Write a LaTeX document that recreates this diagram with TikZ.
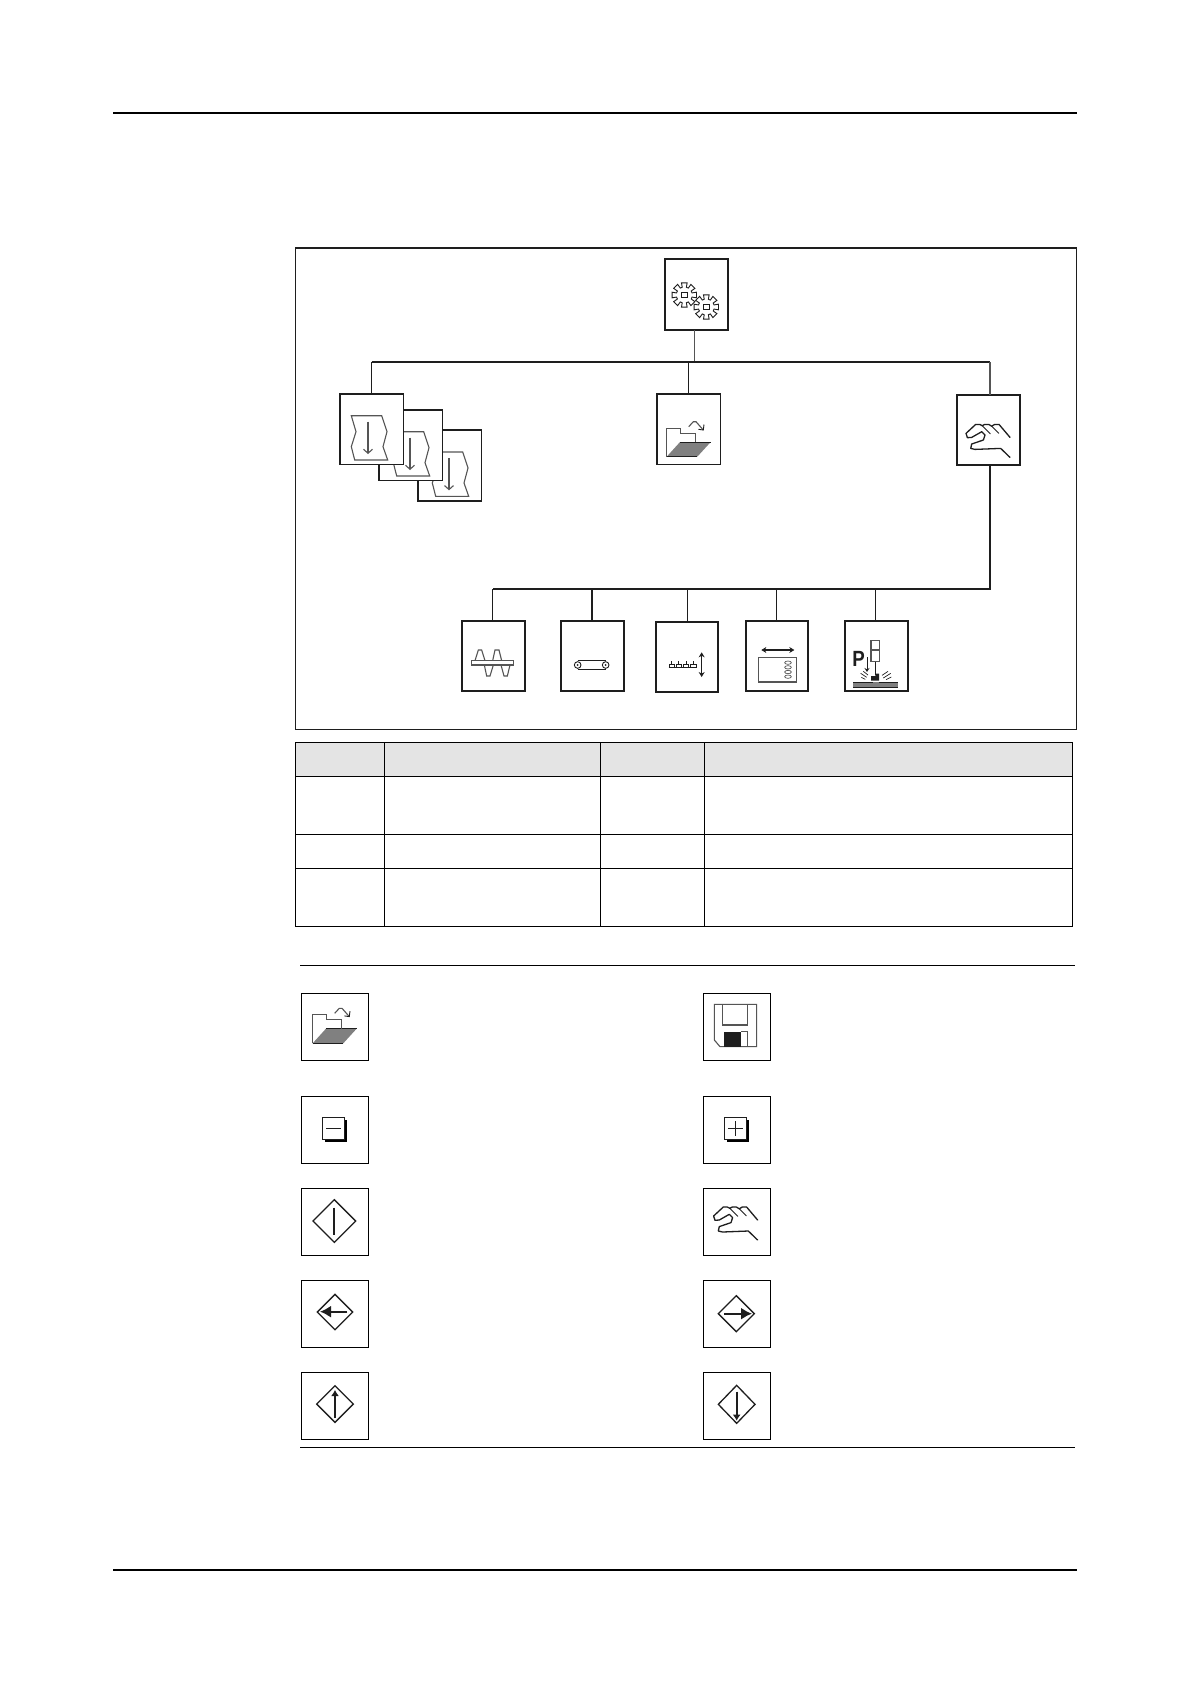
\documentclass[tikz,border=0pt]{standalone}
\usepackage{fontspec}
\setmainfont{Liberation Sans}
\usetikzlibrary{arrows.meta}
\definecolor{ink}{HTML}{1E1E1E}
\definecolor{soft}{HTML}{555555}
\definecolor{headfill}{HTML}{E4E4E4}
\definecolor{dotfill}{HTML}{808080}
\tikzset{
  x=1pt,y=-1pt,
  mainbox/.style={draw=ink,line width=1.7pt,fill=white,inner sep=0pt,outer sep=0pt,anchor=north west,minimum width=63.4pt,minimum height=70.6pt},
  legbox/.style={draw=black,line width=1pt,fill=white,inner sep=0pt,outer sep=0pt,anchor=north west,minimum width=67.4pt,minimum height=67pt},
  bus/.style={draw=ink,line width=1.7pt},
  drop/.style={draw=ink,line width=1.1pt},
  rulethick/.style={draw=black,line width=2pt},
  rulethin/.style={draw=black,line width=1.1pt},
  grid/.style={draw=black,line width=1.1pt},
  ic/.style={draw=ink,line width=.9pt,line join=miter},
  icg/.style={draw=soft,line width=1.1pt,line join=miter},
  icb/.style={draw=ink,line width=1.3pt,line cap=round,line join=round},
  pics/gearwheel/.style={code={
    \draw[ic,fill=white] (-13:12.5)
      foreach \a in {0,45,...,315}{ -- (\a-13:12.5) -- (\a+13:12.5) -- (\a+15:8) -- (\a+30:8) } -- cycle;
    \draw[ic] (-2.7,-2.7) rectangle (2.7,2.7);
  }},
  pics/docsheet/.style={code={
    \draw[icg,fill=white] (11.3,21.7) -- (41.7,21.7) -- (47,37.7) -- (43,52.7) -- (47.7,66) -- (14.7,66) -- (11.3,52.7) -- (16,37.7) -- cycle;
    \draw[icg,-{Straight Barb[length=4pt,width=9pt]}] (28,27.7) -- (28,60);
  }},
  pics/foldericon/.style={code={
    \fill[dotfill] (23,48) -- (53.7,48) -- (40.3,62.7) -- (9.7,62.7) -- cycle;
    \draw[ic,line width=.7pt] (23,48) -- (53.7,48);
    \draw[ic,line width=1.2pt] (9.7,62.7) -- (40.3,62.7);
    \draw[icg] (9.7,62.7) -- (9.7,34.3) -- (23.7,34.3) -- (23.7,39.3) -- (38.3,39.3) -- (38.3,48);
    \draw[icg] (31.7,32.7) -- (36.3,27.7) -- (39,27.7) -- (46.3,36);
    \draw[ic] (41.5,35.3) -- (46.3,36) -- (47,30.5);
  }},
  pics/handicon/.style={code={
    \draw[icb] (53.3,42.7) -- (42.3,29.7) -- (38,29.7) -- (35,31.5) -- (32,29.7) -- (28,29.7) -- (25.5,31) -- (23,29.7) -- (19,29.7) -- (9.3,38.7) -- (10.7,43) -- (15,42.7) -- (25,37) -- (28.3,40.3) -- (26.7,45.3) -- (15,49.3) -- (14,53.7) -- (18.3,54.7) -- (44,53.7) -- (53.3,62.7);
    \draw[icb,line width=.9pt] (35,31.5) -- (42,38.5);
    \draw[icb,line width=.9pt] (25.5,31) -- (33.5,39);
  }},
  pics/keyminus/.style={code={
    \fill[black] (105,420) rectangle (171,486);
    \draw[ic,fill=white,line width=1pt] (97,411) rectangle (163,478);
    \draw[ink,line width=1.3pt] (109,445) -- (152,445);
  }},
  pics/keyplus/.style={code={
    \fill[black] (110,420) rectangle (177,486);
    \draw[ic,fill=white,line width=1pt] (103,411) rectangle (170,478);
    \draw[ink,line width=1.2pt] (115,445) -- (158,445) (136,423) -- (136,467);
  }},
  pics/floppy/.style={code={
    \draw[icg] (73,73) -- (200,73) -- (200,200) -- (90,200) -- (73,180) -- cycle;
    \draw[icg] (97,73) -- (97,135) -- (173,135) -- (173,73);
    \fill[ink] (102,155) rectangle (153,200);
    \draw[icg] (153,155) -- (172,155) -- (172,200);
  }},
}
\begin{document}
\begin{tikzpicture}
\useasboundingbox (0,0) rectangle (1191,1684);
\fill[white] (0,0) rectangle (1191,1684);
% page rules
\coordinate (topL) at (113.3,113); \coordinate (topR) at (1077,113);
\coordinate (botL) at (113.3,1569.6); \coordinate (botR) at (1077,1569.6);
\draw[rulethick] (topL) -- (topR);
\draw[rulethick] (botL) -- (botR);
% frame
\node[draw=ink,line width=1.1pt,inner sep=0pt,outer sep=0pt,anchor=north west,minimum width=781.2pt,minimum height=481.3pt] (frame) at (295.5,248) {};
% tree coordinates
\coordinate (busL) at (371.7,362);
\coordinate (busR) at (990,362);
\coordinate (gearjoin) at (694.7,362);
\coordinate (lowL) at (492.7,589);
\coordinate (lowR) at (990,589);
\coordinate (lowB) at (592,589);
\coordinate (lowC) at (687.3,589);
\coordinate (lowD) at (776.3,589);
\coordinate (lowE) at (875.3,589);
% top node
\node[mainbox,minimum height=71pt] (gear) at (664.7,259) {};
\pic at (684.3,295) {gearwheel};
\pic at (706.3,307) {gearwheel};
% doc stack
\node[mainbox] (docC) at (418,430.3) {};
\pic at (421,430.3) {docsheet};
\node[mainbox] (docB) at (379,410) {};
\pic at (382,410) {docsheet};
\node[mainbox] (docA) at (340,394) {};
\pic at (340,394) {docsheet};
% folder
\node[mainbox] (folder) at (657,394) {};
\pic at (657,394) {foldericon};
% hand
\node[mainbox] (hand) at (956.7,394.7) {};
\pic at (956.7,394.7) {handicon};
% lower row
\node[mainbox] (screw) at (461.7,620.7) {};
\node[mainbox] (belt) at (560.7,620.7) {};
\node[mainbox,minimum width=62.6pt] (suction) at (655.7,621.7) {};
\node[mainbox,minimum width=62.6pt] (slide) at (745.7,620.7) {};
\node[mainbox] (press) at (844.7,620.7) {};
% connectors
\draw[draw=soft,line width=1.4pt] (gear.south -| gearjoin) -- (gearjoin);
\draw[bus] (busL) -- (busR);
\draw[drop] (busL) -- (busL |- docA.north);
\draw[drop] (folder.north |- busL) -- (folder.north);
\draw[drop,line width=1.3pt,draw=soft] (busR) -- (busR |- hand.north);
\draw[bus] (lowR |- hand.south) -- (lowR) -- (lowL);
\draw[drop] (lowL) -- (lowL |- screw.north);
\draw[drop] (lowB) -- (lowB |- belt.north);
\draw[drop] (lowC) -- (lowC |- suction.north);
\draw[drop] (lowD) -- (lowD |- slide.north);
\draw[drop] (lowE) -- (lowE |- press.north);
% lower icons, coordinates in the 3x scale of their crop
\begin{scope}[shift={(440,580)},scale=1/3]
  % screw
  \draw[icg] (105,242) -- (115,210) -- (125,210) -- (135,242);
  \draw[icg] (158,242) -- (165,210) -- (177,210) -- (185,242);
  \draw[icg] (133,255) -- (140,288) -- (150,288) -- (160,255);
  \draw[icg] (183,255) -- (192,288) -- (202,288) -- (210,255);
  \draw[icg] (95,242) rectangle (220,255);
  % belt
  \draw[ic] (413,255) circle (10);
  \draw[ic] (497,255) circle (10);
  \fill[ink] (413,255) circle (3) (497,255) circle (3);
  \draw[ic] (413,242) -- (497,242) (413,268) -- (497,268);
  % suction
  \foreach \s in {695,716,738,760}{
    \draw[ic,line width=.9pt] (\s,243) -- (\s,252);
    \draw[ic,line width=.9pt] (\s-8,252) rectangle (\s+8,262);
  }
  \draw[ink,line width=1.4pt] (686,263) -- (772,263);
  \draw[ink,line width=1.3pt,{Stealth[length=5pt,width=6pt]}-{Stealth[length=5pt,width=6pt]}] (785,217) -- (785,291);
  % slide
  \draw[ink,line width=1.3pt,{Stealth[length=5pt,width=6pt]}-{Stealth[length=5pt,width=6pt]}] (964,210) -- (1063,210);
  \draw[icg,fill=white,line width=1.2pt] (956,232) rectangle (1070,306);
  \foreach \s in {248,262,276,290}{ \draw[icg,line width=.7pt] (1044,\s) ellipse (10 and 5); }
  % press
  \node[font=\fontsize{22}{22}\selectfont\bfseries,text=ink,inner sep=0pt,outer sep=0pt] (pmark) at (1256,238) {\scalebox{.85}[1]{P}};
  \draw[ink,line width=1pt,-{Stealth[length=4pt,width=5pt]}] (1281,232) -- (1281,276);
  \draw[icg,fill=white,line width=1.2pt] (1293,182) rectangle (1318,245);
  \draw[icg,line width=1.2pt] (1293,210) -- (1318,210);
  \draw[ink,line width=1pt] (1306,245) -- (1306,285);
  \fill[ink] (1293,288) -- (1306,288) -- (1306,281) -- (1317,281) -- (1317,302) -- (1293,302) -- cycle;
  \draw[ink,line width=.7pt] (1262,280) -- (1280,292) (1264,292) -- (1276,298) (1270,274) -- (1284,285);
  \draw[ink,line width=.7pt] (1352,280) -- (1330,294) (1354,291) -- (1338,299) (1344,274) -- (1326,286);
  \fill[dotfill] (1240,307) rectangle (1375,321);
  \draw[ink,line width=.8pt] (1240,307) -- (1298,307) (1318,307) -- (1375,307) (1240,321) -- (1375,321);
\end{scope}
% table
\fill[headfill] (295.3,742.7) rectangle (1072.3,776.3);
\node[grid,inner sep=0pt,outer sep=0pt,anchor=north west,minimum width=777pt,minimum height=183.6pt] (tbl) at (295.3,742.7) {};
\coordinate (colA) at (384.3,742.7); \coordinate (colB) at (600.3,742.7); \coordinate (colC) at (704.3,742.7);
\coordinate (rowA) at (295.3,776.3); \coordinate (rowB) at (295.3,834.3); \coordinate (rowC) at (295.3,868.3);
\foreach \c in {colA,colB,colC}{ \draw[grid] (\c) -- (\c |- tbl.south); }
\foreach \r in {rowA,rowB,rowC}{ \draw[grid] (\r) -- (\r -| tbl.east); }
% legend
\coordinate (legTL) at (300,965.3); \coordinate (legTR) at (1075,965.3);
\coordinate (legBL) at (300,1447.5); \coordinate (legBR) at (1075,1447.5);
\draw[rulethin] (legTL) -- (legTR);
\draw[rulethin] (legBL) -- (legBR);
\node[legbox] (lfolder) at (301.3,993.3) {};
\pic at (303,980.6) {foldericon};
\node[legbox] (lfloppy) at (703.3,993.3) {};
\node[legbox] (lminus) at (301.3,1096.3) {};
\node[legbox] (lplus) at (703.3,1096.3) {};
\node[legbox] (lstop) at (301.3,1188.3) {};
\node[legbox] (lhand) at (703.3,1188.3) {};
\node[legbox] (lleft) at (301.3,1280.3) {};
\node[legbox] (lright) at (703.3,1280.3) {};
\node[legbox] (lup) at (301.3,1372.3) {};
\node[legbox] (ldown) at (703.3,1372.3) {};
\pic[scale=1/3] at (690,980) {floppy};
\pic[scale=1/3] at (290,980) {keyminus};
\pic[scale=1/3] at (690,980) {keyplus};
\pic at (704.3,1177.3) {handicon};
\begin{scope}[shift={(290,1180)},scale=1/3]
  \draw[ic,line width=1.3pt] (133,59) -- (197,123) -- (133,187) -- (69,123) -- cycle;
  \draw[ink,line width=2pt] (133,83) -- (133,165);
  \draw[ic,line width=1.3pt] (135,343) -- (188,396) -- (135,449) -- (82,396) -- cycle;
  \draw[ink,line width=1.8pt,-{Latex[length=11pt,width=12pt]}] (172,395) -- (90,395);
  \draw[ic,line width=1.3pt] (135,617) -- (190,672) -- (135,727) -- (80,672) -- cycle;
  \draw[ink,line width=1.8pt,-{Latex[length=6pt,width=8pt]}] (135,714) -- (135,630);
\end{scope}
\begin{scope}[shift={(690,1270)},scale=1/3]
  \draw[ic,line width=1.3pt] (139,77) -- (193,131) -- (139,185) -- (85,131) -- cycle;
  \draw[ink,line width=1.8pt,-{Latex[length=11pt,width=12pt]}] (102,131) -- (186,131);
  \draw[ic,line width=1.3pt] (140,346) -- (195,403) -- (140,460) -- (85,403) -- cycle;
  \draw[ink,line width=1.8pt,-{Latex[length=6pt,width=8pt]}] (140,365) -- (140,452);
\end{scope}
\end{tikzpicture}
\end{document}
